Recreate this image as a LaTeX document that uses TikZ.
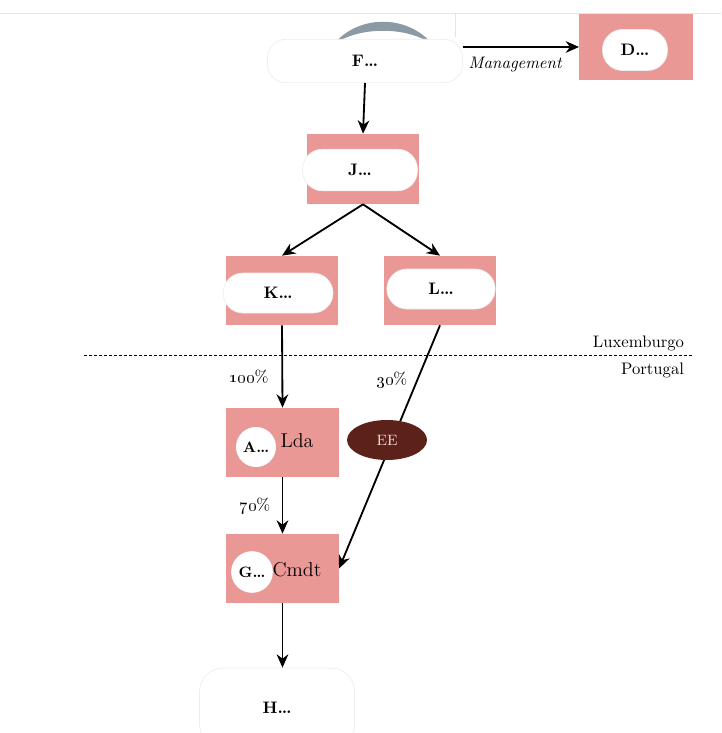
\documentclass[tikz,border=0pt]{standalone}
\usepackage{tikz}
\usetikzlibrary{positioning,calc,arrows.meta,shapes.geometric}
\definecolor{rose}{HTML}{EA9896}
\definecolor{eebrown}{HTML}{5C2219}
\definecolor{eetext}{HTML}{F2DCDC}
\definecolor{slate}{HTML}{8C9AA6}
\definecolor{faint}{HTML}{E4E4E4}

\begin{document}
\begin{tikzpicture}[x=0.6pt,y=-0.6pt,font=\normalsize,
    >={Stealth[length=8pt,width=7pt]},
    box/.style={fill=rose,inner sep=0pt,minimum width=67.5pt,minimum height=41.4pt},
    blob/.style={fill=white,draw=black!7,rounded corners=11pt,inner sep=0pt,font=\normalsize\bfseries},
    disc/.style={circle,fill=white,inner sep=0pt,font=\small\bfseries},
    link/.style={->,line width=1.1pt}]
    \useasboundingbox (0,0) rectangle (721,733);
    % frame remains at the top
    \draw[faint] (0,13)--(721,13); \draw[faint] (455,13)--(455,37);
    % F and D
    \fill[slate] (333,45) .. controls (358,14) and (408,14) .. (433,45) .. controls (408,26) and (358,26) .. cycle;
    \node[blob,minimum width=117pt,minimum height=26pt] (fNode) at (365,61) {F\ldots};
    \node[box,minimum width=68pt,minimum height=40pt] (dBox) at (636,47) {};
    \node[blob,minimum width=39pt,minimum height=24.6pt,rounded corners=12pt] (dName) at (635,50) {D\ldots};
    % J, K, L
    \node[box,minimum height=42pt] (jBox) at (363,169) {};
    \node[blob,minimum width=69pt,minimum height=25pt,rounded corners=12pt] (jName) at (360,170) {J\ldots};
    \node[box] (kBox) at (282,290.5) {};
    \node[blob,minimum width=66pt,minimum height=24pt,rounded corners=12pt] (kName) at (278,293) {K\ldots};
    \node[box] (lBox) at (440,290.5) {};
    \node[blob,minimum width=65pt,minimum height=24pt,rounded corners=12pt] (lName) at (441,289) {L\ldots};
    % border
    \draw[dash pattern=on 2pt off 1pt,line width=0.5pt] (84,355) coordinate (bordW)--(692,355) coordinate (bordE);
    \node[anchor=south east,inner sep=1pt] (lux) at (686,353) {Luxemburgo};
    \node[anchor=north east,inner sep=1pt] (por) at (686,361) {Portugal};
    % A, G, H
    \node[box] (aBox) at (282.5,442.5) {};
    \node[disc,minimum size=24pt] (aName) at (256,447) {A\ldots};
    \node[font=\large] (aType) at (297,441) {Lda};
    \node[box] (gBox) at (282.5,568.5) {};
    \node[disc,minimum size=25pt] (gName) at (252,572) {G\ldots};
    \node[font=\large] (gType) at (297,570) {Cmdt};
    \node[blob,minimum width=93pt,minimum height=48pt,rounded corners=14pt] (hNode) at (277,708) {H\ldots};
    % connectors
    \draw[link] (fNode.east |- dBox.west)--(dBox.west) node[pos=0.45,below=2pt,font=\itshape] (mgmt) {Management};
    \draw[link] (fNode.south)--(jBox.north);
    \draw[link] (jBox.south)--(kBox.north);
    \draw[link] (jBox.south)--(lBox.north);
    \draw[link] (kBox.south)--(aBox.north);
    \draw[link] (lBox.south)--(gBox.east);
    \draw[link] (aBox.south)--(gBox.north);
    \draw[link] (gBox.south)--(gBox.south |- hNode.north);
    \node[ellipse,fill=eebrown,minimum width=48pt,minimum height=24pt,text=eetext,font=\small] (ee) at (387,440) {EE};
    \node (pctK) at (249,377) {\oldstylenums{100}\%};
    \node (pctL) at (392,380) {\oldstylenums{30}\%};
    \node (pctA) at (255,506) {\oldstylenums{70}\%};
\end{tikzpicture}
\end{document}
